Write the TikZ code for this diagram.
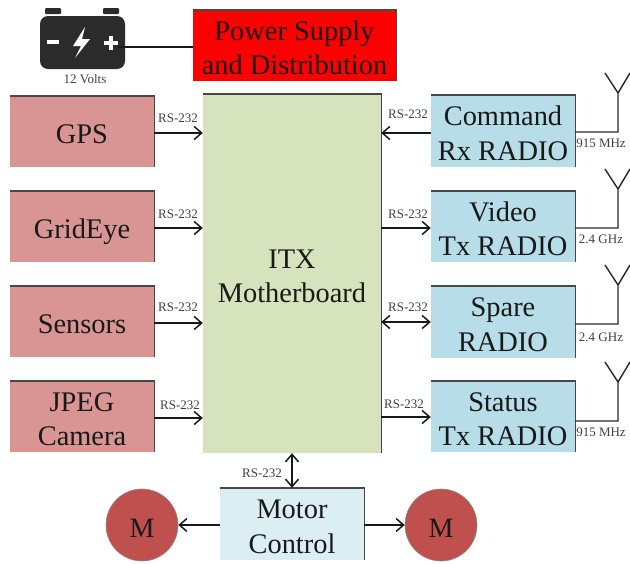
\documentclass[tikz,border=0pt]{standalone}
\usepackage{fontspec}
\setmainfont{Liberation Serif}
\usetikzlibrary{arrows.meta}
\newcommand\dn{\rule{0pt}{24.5pt}}
\tikzset{
  blk/.style={minimum width=#1, inner sep=0pt, align=center, font=\fontsize{28.4}{34.5}\selectfont, text=black!90},
  blk/.default=144pt,
  lbl/.style={font=\fontsize{13}{15}\selectfont, text=black!75, inner sep=0pt},
  barb/.tip={Straight Barb[length=7.5pt,width=13pt,line width=1.5pt]},
  conn/.style={line width=1.7pt, black!90, -barb},
  bidir/.style={line width=1.7pt, black!90, barb-barb},
  plainline/.style={line width=1.7pt, black!90},
  edge/.style={line width=1.4pt, black!72},
  ant/.style={line width=1.4pt, black!85, line join=miter},
  mot/.style={circle, draw=black!45, line width=0.6pt, fill=mred, minimum size=72pt, inner sep=0pt, font=\fontsize{28}{34}\selectfont, text=black!90}
}
\definecolor{pink}{HTML}{D99594}
\definecolor{mgreen}{HTML}{D6E3BC}
\definecolor{rblue}{HTML}{B7DDE8}
\definecolor{lblue}{HTML}{DAEEF3}
\definecolor{mred}{HTML}{C0504D}
\definecolor{batt}{HTML}{2B2B2B}
\begin{document}
\begin{tikzpicture}[x=1pt,y=-1pt]
\useasboundingbox (0,0) rectangle (630,563);
% boxes
\node[blk, fill=pink, minimum height=71pt] (gps) at (82,131.5) {\dn GPS};
\node[blk, fill=pink, minimum height=71pt] (grid) at (82,226.5) {\rule{0pt}{31pt}GridEye};
\node[blk, fill=pink, minimum height=71pt] (sens) at (82,321.5) {\dn Sensors};
\node[blk, fill=pink, minimum height=71pt] (jpeg) at (82,416.5) {\dn JPEG\\Camera};
\node[blk=178pt, fill=mgreen, minimum height=359pt] (itx) at (292,273.5) {\dn ITX\\Motherboard};
\node[blk, fill=rblue, minimum height=72pt] (cmd) at (503,131) {\dn Command\\Rx RADIO};
\node[blk, fill=rblue, minimum height=71pt] (vid) at (503,226.5) {\dn Video\\Tx RADIO};
\node[blk, fill=rblue, minimum height=72pt] (spare) at (503,322) {\dn Spare\\RADIO};
\node[blk, fill=rblue, minimum height=71pt] (stat) at (503,416.5) {\dn Status\\Tx RADIO};
\node[blk=203pt, fill=red, minimum height=71pt] (pwr) at (294.5,45.5) {\dn Power Supply\\and Distribution};
\node[blk, fill=lblue, minimum height=72pt] (mc) at (292,524) {\dn Motor\\Control};
\node[mot] (m1) at (142,525) {\rule{0pt}{24pt}M};
\node[mot] (m2) at (441,525) {\rule{0pt}{24pt}M};
\foreach \n in {gps,grid,sens,jpeg,itx,cmd,vid,spare,stat,pwr,mc}
  \draw[edge] (\n.north west) -- (\n.north east) -- (\n.south east);
% battery
\fill[batt, rounded corners=8pt] (40,16) rectangle (125,69);
\fill[batt, rounded corners=1pt] (45,8) rectangle (61,14);
\fill[batt, rounded corners=1pt] (103,8) rectangle (119,14);
\fill[white] (47,40) rectangle (59,44);
\fill[white] (104,41) rectangle (118,45);
\fill[white] (109,36) rectangle (113,50);
\fill[white] (85,27) -- (73,46) -- (81,46) -- (75,58) -- (90,39) -- (82,39) -- cycle;
\coordinate (bplus) at (118,47);
\node[lbl] (v12) at (85,79) {12 Volts};
\draw[plainline] (bplus) -- (pwr.west |- bplus);
% connectors
\foreach \n in {gps,grid,sens,jpeg}{
  \coordinate (s) at ([yshift=-1.5pt]\n.east);
  \draw[conn] (s) -- (itx.west |- s);
}
\coordinate (s) at ([yshift=-2pt]cmd.west);
\draw[conn] (s) -- (itx.east |- s);
\coordinate (s) at ([yshift=-1.5pt]vid.west);
\draw[conn] (itx.east |- s) -- (s);
\draw[bidir] (itx.east |- spare.west) -- (spare.west);
\coordinate (s) at ([yshift=-0.5pt]stat.west);
\draw[conn] (itx.east |- s) -- (s);
\draw[bidir] (itx.south -| mc.north) -- (mc.north);
\draw[conn] (mc.west |- m1.east) -- (m1.east);
\draw[conn] (mc.east |- m2.west) -- (m2.west);
% rs labels
\node[lbl] (l1) at (178,118) {RS-232};
\node[lbl] (l2) at (178,214) {RS-232};
\node[lbl] (l3) at (178,307) {RS-232};
\node[lbl] (l4) at (180,405) {RS-232};
\node[lbl] (r1) at (408,114) {RS-232};
\node[lbl] (r2) at (408,214) {RS-232};
\node[lbl] (r3) at (408,307) {RS-232};
\node[lbl] (r4) at (404,404) {RS-232};
\node[lbl] (b1) at (262,473) {RS-232};
% antennas
\foreach \n/\y/\t/\ty in {cmd/132/915 MHz/143, vid/228/2.4 GHz/239, spare/324/2.4 GHz/337, stat/421/915 MHz/432}{
  \coordinate (s) at (\n.east |- 0,\y);
  \coordinate (c) at (618,\y);
  \coordinate (tip) at (618,\y-39);
  \coordinate (al) at (605,\y-59);
  \coordinate (ar) at (630,\y-59);
  \draw[ant] (s) -- (c) -- (tip) -- (al);
  \draw[ant] (tip) -- (ar);
  \node[lbl] at (601,\ty) {\t};
}
\end{tikzpicture}
\end{document}
